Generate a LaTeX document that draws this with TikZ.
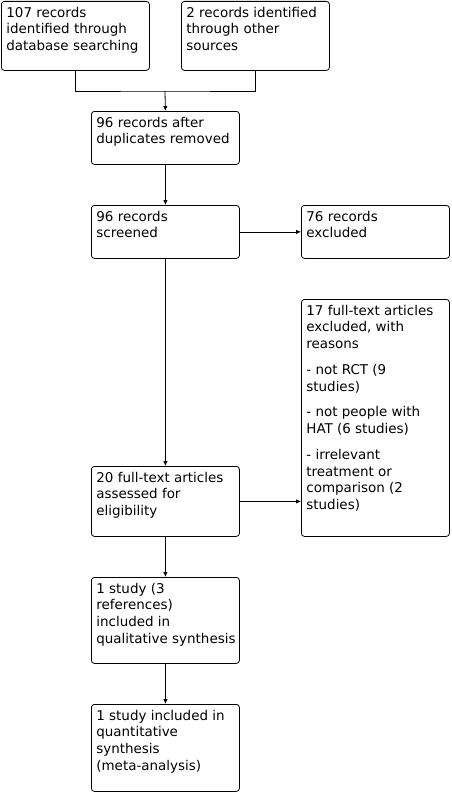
\documentclass[tikz,border=0pt]{standalone}
\usepackage{fontspec}
\setmainfont{DejaVu Sans}
\usetikzlibrary{arrows.meta}

% box text: height, text
\newcommand{\boxtxt}[2]{\parbox[c][\dimexpr#1bp-8bp\relax][t]{148bp}{\raggedright\leftskip=5bp\strut#2}}

\begin{document}
\begin{tikzpicture}[x=1bp,y=-1bp,
        rec/.style={draw, rounded corners=3bp, anchor=north west, inner xsep=0bp, inner ysep=4bp,
                line width=0.8bp, font=\fontsize{13.5}{16.8}\selectfont},
        arr/.style={line width=0.8bp, -{Latex[length=5bp,width=4.5bp]}}]
        \useasboundingbox[fill=white] (0,0) rectangle (452,792);
        % identification
        \node[rec] (ident) at (1,1) {\boxtxt{69}{107 records\\identified through\\database searching}};
        \node[rec] (other) at (181,1) {\boxtxt{69}{2 records identified\\through other\\sources}};
        \node[rec] (dupl) at (91,111) {\boxtxt{53}{96 records after\\duplicates removed}};
        % screening
        \node[rec] (screen) at (91,205) {\boxtxt{53}{96 records\\screened}};
        \node[rec] (excl) at (301,205) {\boxtxt{53}{76 records\\excluded}};
        % eligibility
        \node[rec] (ftexcl) at (301,299) {\boxtxt{237}{17 full-text articles\\excluded, with\\reasons\\[9bp]
                - not RCT (9\\studies)\\[9bp]- not people with\\HAT (6 studies)\\[9bp]
                - irrelevant\\treatment or\\comparison (2\\studies)}};
        \node[rec] (elig) at (91,466) {\boxtxt{70}{20 full-text articles\\assessed for\\eligibility}};
        % included
        \node[rec] (qual) at (91,577) {\boxtxt{86}{1 study (3\\references)\\included in\\qualitative synthesis}};
        \node[rec] (quant) at (91,704) {\boxtxt{87}{1 study included in\\quantitative\\synthesis\\(meta-analysis)}};

        \coordinate (join) at (165,91);
        \draw[line width=0.8bp] (ident.south) |- (join) -| (other.south);
        \draw[arr] (join) -- (dupl.north);
        \draw[arr] (dupl) -- (screen);
        \draw[arr] (screen) -- (excl);
        \draw[arr] (screen) -- (elig);
        \draw[arr] (elig.east) -- (elig.east -| ftexcl.west);
        \draw[arr] (elig) -- (qual);
        \draw[arr] (qual) -- (quant);
\end{tikzpicture}
\end{document}
